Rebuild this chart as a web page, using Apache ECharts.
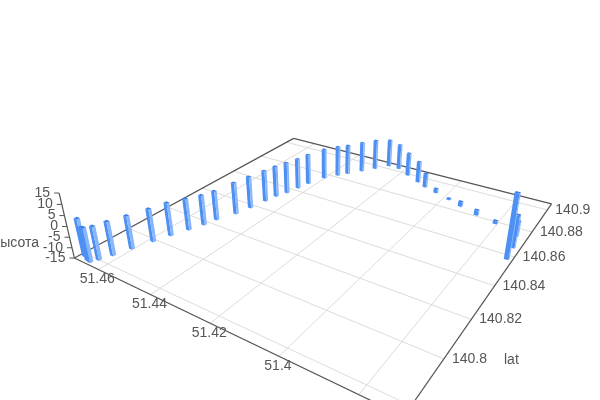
<!DOCTYPE html><html><head><meta charset="utf-8"><script src="https://cdn.jsdelivr.net/npm/echarts@6/dist/echarts.min.js"></script></head><body style="margin:0;background:#fff"><div id="c" style="width:600px;height:400px"></div><script>
// ---- chart data (longitude-like axis, "lat" axis, "высота" axis) ----
const lngValues=[51.4684,51.4661,51.4649,51.4638,51.4623,51.4606,51.4585,51.4567,51.4546,51.4529,51.4518,51.4493,51.4480,51.4468,51.4459,51.4445,51.4434,51.4424,51.4403,51.4375,51.4354,51.4323,51.4294,51.4263,51.4223,51.4172,51.4120,51.4084,51.4037,51.3982,51.3934,51.3872,51.3806,51.3715,51.3720,51.3732];
const latValues=[140.7789,140.7778,140.7776,140.7802,140.7847,140.7913,140.7989,140.8054,140.8120,140.8179,140.8234,140.8311,140.8380,140.8457,140.8514,140.8565,140.8625,140.8683,140.8766,140.8821,140.8860,140.8917,140.8971,140.9030,140.9029,140.8988,140.8952,140.8925,140.8902,140.8873,140.8845,140.8812,140.8788,140.8575,140.8658,140.8742];
const heightValues=[2.9,0.5,1.2,0.8,1.1,0.9,0.8,1.0,0.5,-0.2,-0.5,0.8,1.0,0.9,0.9,1.0,0.7,0.8,0.9,0.9,0.8,0.9,1.0,-0.3,-1.5,-2.6,-3.9,-7.6,-12.8,-14.3,-12.5,-12.4,-13.5,15.2,0.6,-7.7];
const lngTicks=[51.38,51.4,51.42,51.44,51.46];
const latTicks=[140.78,140.8,140.82,140.84,140.86,140.88,140.9];
const heightTicks=[-15,-10,-5,0,5,10,15];
const lngRange=[51.37,51.47], latRange=[140.776,140.906], heightRange=[-15,15];
const latName='lat', heightName='высота';

// ---- perspective camera of the 3D box ----
const X0=51.38,Y0=140.78;
const Hm=[[-2803.121,3624.412,366.7],[-455.08,-594.252,385],[4.012,4.633,1]];
const VP=[328,1335.6], kZ=-0.00254475;
function project(x,y,z){x-=X0;y-=Y0;const a=(z-heightRange[0])*kZ;
  const gx=Hm[0][0]*x+Hm[0][1]*y+Hm[0][2],gy=Hm[1][0]*x+Hm[1][1]*y+Hm[1][2],gw=Hm[2][0]*x+Hm[2][1]*y+1;
  return [(gx+a*VP[0])/(gw+a),(gy+a*VP[1])/(gw+a)];}

const barHalf=0.00065;
const zBase=heightRange[0];
const barData=lngValues.map((v,i)=>[v,latValues[i],heightValues[i]]).sort((a,b)=>project(a[0],a[1],zBase)[1]-project(b[0],b[1],zBase)[1]);
const lineData=[
  ...lngTicks.map(v=>[v,latRange[0],zBase,v,latRange[1],zBase,0]),
  ...latTicks.map(v=>[lngRange[0],v,zBase,lngRange[1],v,zBase,0]),
  [lngRange[0],latRange[0],zBase,lngRange[1],latRange[0],zBase,1],
  [lngRange[1],latRange[0],zBase,lngRange[1],latRange[1],zBase,1],
  [lngRange[1],latRange[1],zBase,lngRange[0],latRange[1],zBase,1],
  [lngRange[0],latRange[1],zBase,lngRange[0],latRange[0],zBase,1],
  [lngRange[1],latRange[0],heightRange[0],lngRange[1],latRange[0],heightRange[1],1]
];
function lineItem(p,api){
  const a=api.coord(project(api.value(0),api.value(1),api.value(2)));
  const b=api.coord(project(api.value(3),api.value(4),api.value(5)));
  const dark=api.value(6)===1;
  return {type:'line',shape:{x1:a[0],y1:a[1],x2:b[0],y2:b[1]},style:{stroke:dark?'#555':'#dcdcdc',lineWidth:dark?1.2:1}};
}
function barItem(p,api){
  const x=api.value(0),y=api.value(1),t=api.value(2),d=barHalf;
  const P=(dx,dy,z)=>api.coord(project(x+dx*d,y+dy*d,z));
  const face=(pts,fill)=>({type:'polygon',shape:{points:pts},style:{fill,lineWidth:0}});
  return {type:'group',children:[
    face([P(-1,-1,zBase),P(1,-1,zBase),P(1,-1,t),P(-1,-1,t)],'#4d8ff2'),
    face([P(-1,-1,zBase),P(-1,1,zBase),P(-1,1,t),P(-1,-1,t)],'#86b6fb'),
    face([P(-1,-1,t),P(1,-1,t),P(1,1,t),P(-1,1,t)],'#3f80e8')
  ]};
}
const labelFont='14px "Liberation Sans",Arial,sans-serif', labelColor='#555';
function textEl(pt,text,align){return {type:'text',style:{x:pt[0],y:pt[1],text,font:labelFont,fill:labelColor,align,verticalAlign:'middle'}};}
const custom=(renderItem,data,z)=>({type:'custom',renderItem,data,clip:false,z,silent:true,animation:false,encode:{x:[],y:[]}});

const option={
  animation:false,backgroundColor:'#fff',
  grid:{left:0,right:0,top:0,bottom:0},
  xAxis:{type:'value',min:0,max:600,show:false},
  yAxis:{type:'value',min:0,max:400,inverse:true,show:false},
  series:[
    custom(lineItem,lineData,1),
    custom((p,api)=>{ // height axis ticks and labels
      const v=api.value(0),q=project(lngRange[1],latRange[0],v),a=api.coord(q);
      return {type:'group',children:[
        {type:'line',shape:{x1:a[0]-5,y1:a[1],x2:a[0],y2:a[1]},style:{stroke:'#555',lineWidth:1}},
        textEl([a[0]-9,a[1]],String(v),'right')]};
    },heightTicks.map(v=>[v]),2),
    custom((p,api)=>{ // lng labels
      const v=api.value(0),a=api.coord(project(v,latRange[0],zBase));
      if(a[1]>385) return null;
      return textEl([a[0]-1,a[1]+9.5],String(v),'center');
    },lngTicks.map(v=>[v]),2),
    custom((p,api)=>{ // lat labels
      const v=api.value(0),a=api.coord(project(lngRange[0],v,zBase));
      if(a[1]>385) return null;
      return textEl([a[0]+8,a[1]],String(v),'left');
    },latTicks.map(v=>[v]),2),
    custom(barItem,barData,3),
    custom(()=>({type:'group',children:[textEl([504,360],latName,'left'),textEl([39,243],heightName,'right')]}),[[0]],2)
  ]
};
const ch=echarts.init(document.getElementById('c'));ch.setOption(option);
</script></body></html>
